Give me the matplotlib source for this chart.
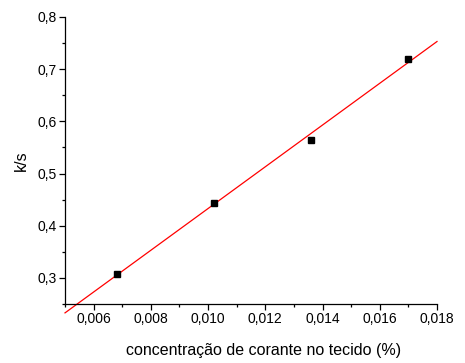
import matplotlib
matplotlib.use("Agg")
import matplotlib.pyplot as plt
import numpy as np
from matplotlib.ticker import FuncFormatter, MultipleLocator

plt.rcParams["font.family"] = ["Liberation Sans", "DejaVu Sans"]

# dados
conc = [0.0068, 0.0102, 0.0136, 0.0170]
ks = [0.307, 0.444, 0.565, 0.720]
fit_range = [0.0050, 0.0180]

fig = plt.figure(figsize=(4.65, 3.63), dpi=100)
ax = fig.add_axes([0.1398, 0.1625, 0.80, 0.7907])

slope, intercept = np.polyfit(conc, ks, 1)
xf = np.array(fit_range)
ax.plot(xf, slope * xf + intercept, color="red", lw=0.9, clip_on=False, zorder=2)
ax.plot(conc, ks, "s", color="black", markersize=5, zorder=3)

ax.set_xlim(0.005, 0.018)
ax.set_ylim(0.25, 0.8)
ax.xaxis.set_major_locator(MultipleLocator(0.002))
ax.xaxis.set_minor_locator(MultipleLocator(0.001))
ax.yaxis.set_major_locator(MultipleLocator(0.1))
ax.yaxis.set_minor_locator(MultipleLocator(0.05))
ax.xaxis.set_major_formatter(FuncFormatter(lambda v, p: f"{v:.3f}".replace(".", ",")))
ax.yaxis.set_major_formatter(FuncFormatter(lambda v, p: f"{v:.1f}".replace(".", ",")))

for s in ["top", "right"]:
    ax.spines[s].set_visible(False)
for s in ["left", "bottom"]:
    ax.spines[s].set_linewidth(0.9)
ax.tick_params(which="major", direction="out", length=4, width=0.9, labelsize=10, pad=2)
ax.tick_params(which="minor", direction="out", length=2.5, width=0.9)

ax.set_xlabel("concentração de corante no tecido (%)", fontsize=11.5, labelpad=12)
ax.xaxis.set_label_coords(0.535, -0.135)
ax.set_ylabel("k/s", fontsize=11.5)
ax.yaxis.set_label_coords(-0.097, 0.5)

fig.savefig("out.png", dpi=100)
